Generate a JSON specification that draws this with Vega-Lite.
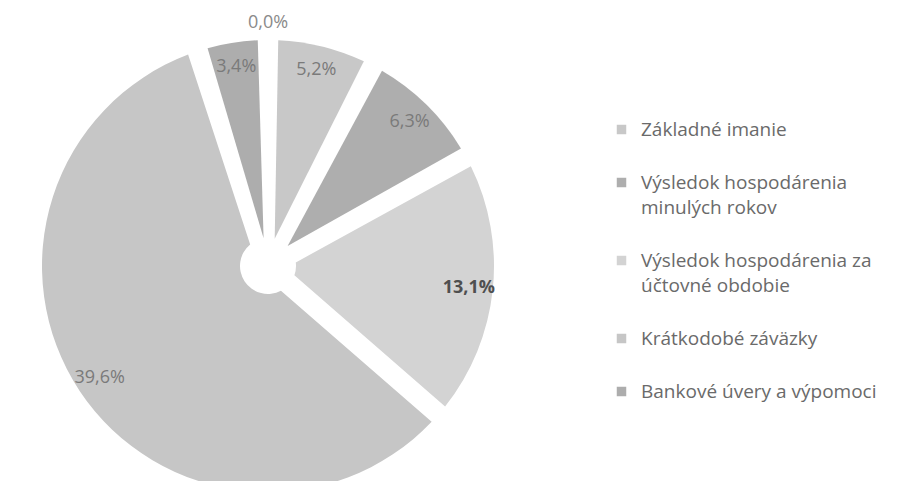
{
  "$schema": "https://vega.github.io/schema/vega-lite/v6.json",
  "width": 536,
  "height": 438,
  "padding": {"top": 14, "left": 0, "right": 0, "bottom": 0},
  "background": "white",
  "data": {
    "values": [
      {"polozka": "Základné imanie", "podiel": 0.052, "poradie": 1},
      {"polozka": "Výsledok hospodárenia minulých rokov", "podiel": 0.063, "poradie": 2},
      {"polozka": "Výsledok hospodárenia za účtovné obdobie", "podiel": 0.131, "poradie": 3},
      {"polozka": "Krátkodobé záväzky", "podiel": 0.396, "poradie": 4},
      {"polozka": "Bankové úvery a výpomoci", "podiel": 0.034, "poradie": 5},
      {"polozka": "Ostatné", "podiel": 0.0, "poradie": 6}
    ]
  },
  "encoding": {
    "theta": {"field": "podiel", "type": "quantitative", "stack": true},
    "order": {"field": "poradie", "type": "quantitative"}
  },
  "layer": [
    {
      "mark": {"type": "arc", "outerRadius": 226, "innerRadius": 28, "padAngle": 0.09},
      "encoding": {
        "color": {
          "field": "polozka",
          "type": "nominal",
          "scale": {
            "domain": ["Základné imanie", "Výsledok hospodárenia minulých rokov", "Výsledok hospodárenia za účtovné obdobie", "Krátkodobé záväzky", "Bankové úvery a výpomoci", "Ostatné"],
            "range": ["#c8c8c8", "#aeaeae", "#d3d3d3", "#c6c6c6", "#adadad", "#bcbcbc"]
          },
          "legend": {
            "orient": "none",
            "legendX": 612,
            "legendY": 73,
            "title": null,
            "values": ["Základné imanie", "Výsledok hospodárenia minulých rokov", "Výsledok hospodárenia za účtovné obdobie", "Krátkodobé záväzky", "Bankové úvery a výpomoci"],
            "symbolType": "square",
            "symbolSize": 90,
            "symbolStrokeWidth": 0,
            "labelFont": "Open Sans",
            "labelFontSize": 19,
            "labelColor": "#6a6a6a",
            "labelLimit": 0,
            "labelOffset": 10,
            "rowPadding": 33,
            "labelExpr": "datum.label == 'Výsledok hospodárenia minulých rokov' ? ['Výsledok hospodárenia', 'minulých rokov'] : datum.label == 'Výsledok hospodárenia za účtovné obdobie' ? ['Výsledok hospodárenia za', 'účtovné obdobie'] : datum.label"
          }
        }
      }
    },
    {
      "transform": [{"filter": "datum.podiel > 0"}],
      "mark": {
        "type": "text",
        "radius": 202,
        "font": "Open Sans",
        "fontSize": 18,
        "fill": {"expr": "datum.podiel == 0.131 ? '#4f4f4f' : '#7a7a7a'"},
        "fontWeight": {"expr": "datum.podiel == 0.131 ? 'bold' : 'normal'"}
      },
      "encoding": {
        "text": {"field": "podiel", "type": "quantitative", "format": ".1%"}
      }
    },
    {
      "transform": [{"filter": "datum.podiel == 0"}],
      "mark": {"type": "text", "radius": 243, "font": "Open Sans", "fontSize": 18, "fill": "#8a8a8a"},
      "encoding": {
        "text": {"field": "podiel", "type": "quantitative", "format": ".1%"}
      }
    }
  ],
  "config": {
    "view": {"stroke": null},
    "style": {"guide-label": {"lineHeight": 25}},
    "locale": {
      "number": {"decimal": ",", "thousands": " ", "grouping": [3], "currency": ["", " €"]}
    }
  }
}
